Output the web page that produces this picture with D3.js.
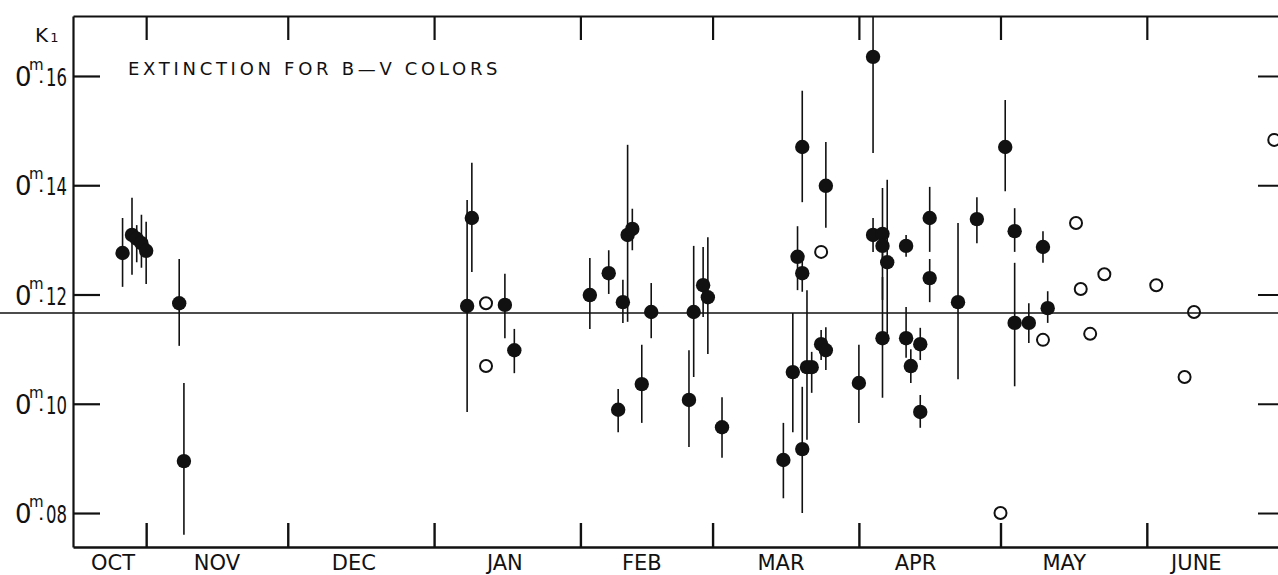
<!DOCTYPE html>
<html><head><meta charset="utf-8">
<script src="https://cdn.jsdelivr.net/npm/d3@7"></script>
<style>body{margin:0;background:#fff} svg{display:block} text{font-family:"DejaVu Sans",sans-serif;fill:#111}</style>
</head><body><svg id="c" width="1278" height="575"></svg>
<script>
// ---------- data ----------
const filledDates = ["1961-10-27","1961-10-29","1961-10-30","1961-10-31","1961-11-01","1961-11-08","1961-11-09",
 "1962-01-09","1962-01-08","1962-01-16","1962-01-18",
 "1962-02-03","1962-02-07","1962-02-09","1962-02-10","1962-02-11","1962-02-12","1962-02-14","1962-02-16","1962-02-24","1962-02-25","1962-02-27","1962-02-28",
 "1962-03-03","1962-03-16","1962-03-18","1962-03-19","1962-03-20","1962-03-20","1962-03-20","1962-03-21","1962-03-22","1962-03-24","1962-03-25","1962-03-25",
 "1962-04-01","1962-04-04","1962-04-04","1962-04-06","1962-04-06","1962-04-07","1962-04-06","1962-04-11","1962-04-11","1962-04-12","1962-04-14","1962-04-14","1962-04-16","1962-04-16","1962-04-22","1962-04-26",
 "1962-05-02","1962-05-04","1962-05-04","1962-05-07","1962-05-10","1962-05-11"];
const filledValues = [0.1276,0.1309,0.1302,0.1294,0.1280,0.1184,0.0895,
 0.1340,0.1179,0.1181,0.1098,
 0.1199,0.1239,0.0989,0.1186,0.1309,0.1320,0.1036,0.1168,0.1007,0.1168,0.1217,0.1195,
 0.0957,0.0897,0.1058,0.1269,0.1470,0.0917,0.1239,0.1067,0.1067,0.1109,0.1098,0.1399,
 0.1038,0.1635,0.1309,0.1311,0.1289,0.1259,0.1120,0.1289,0.1120,0.1069,0.1109,0.0985,0.1340,0.1230,0.1186,0.1338,
 0.1470,0.1148,0.1316,0.1148,0.1287,0.1175];
const filledLow = [0.1214,0.1236,0.1259,0.1249,0.1219,0.1106,0.0760,
 0.1241,0.0985,0.1120,0.1056,
 0.1137,0.1201,0.0948,0.1148,0.1150,0.1281,0.0965,0.1120,0.0921,0.1049,0.1159,0.1091,
 0.0901,0.0827,0.0948,0.1208,0.1369,0.0800,0.1205,0.0934,0.1020,0.1080,0.1062,0.1322,
 0.0965,0.1459,0.1278,0.1259,0.1190,0.1129,0.1011,0.1269,0.1084,0.1038,0.1080,0.0956,0.1278,0.1186,0.1045,0.1294,
 0.1389,0.1032,0.1278,0.1111,0.1258,0.1148];
const filledHigh = [0.1340,0.1377,0.1327,0.1346,0.1333,0.1265,0.1038,
 0.1441,0.1373,0.1238,0.1137,
 0.1267,0.1281,0.1027,0.1227,0.1474,0.1357,0.1108,0.1221,0.1098,0.1289,0.1287,0.1305,
 0.1012,0.0965,0.1166,0.1325,0.1573,0.1031,0.1272,0.1208,0.1095,0.1135,0.1140,0.1479,
 0.1108,0.1760,0.1340,0.1395,0.1318,0.1410,0.1232,0.1309,0.1177,0.1100,0.1139,0.1016,0.1397,0.1265,0.1331,0.1378,
 0.1556,0.1258,0.1358,0.1184,0.1316,0.1206];
const openDates = ["1962-01-12","1962-01-12","1962-03-24","1962-05-01","1962-05-10","1962-05-17","1962-05-18","1962-05-20","1962-05-23","1962-06-03","1962-06-09","1962-06-11","1962-06-28"];
const openValues = [0.1184,0.1069,0.1278,0.0800,0.1117,0.1331,0.1210,0.1128,0.1237,0.1217,0.1049,0.1168,0.1483];
const meanValue = 0.1166;
const yTicks = [0.08,0.10,0.12,0.14,0.16];
const yTickLabels = ["08","10","12","14","16"];
const monthTickDates = ["1961-11-01","1961-12-01","1962-01-01","1962-02-01","1962-03-01","1962-04-01","1962-05-01","1962-06-01"];
const monthLabels = ["OCT","NOV","DEC","JAN","FEB","MAR","APR","MAY","JUNE"];
const monthLabelDates = ["1961-10-25","1961-11-16","1961-12-15","1962-01-16","1962-02-14","1962-03-15T12","1962-04-13","1962-05-14T12","1962-06-11T12"];
const titleText = "EXTINCTION FOR B\u2014V COLORS";

// ---------- scales ----------
const pd = s => s.includes("T") ? d3.timeParse("%Y-%m-%dT%H")(s) : d3.timeParse("%Y-%m-%d")(s);
const L = 73, R = 1278, T = 16, B = 547;
const x = d3.scaleTime().domain([new Date(1961,9,16,12), new Date(1962,5,28,19)]).range([L, R]);
const y = d3.scaleLinear().domain([0.07378, 0.17098]).range([B, T]);

const svg = d3.select("#c");
svg.append("defs").append("clipPath").attr("id","plot").append("rect")
  .attr("x", L).attr("y", T).attr("width", R - L).attr("height", B - T);

// ---------- axes ----------
const ink = "#111";
function styleAxis(g, w){ g.selectAll("path,line").attr("stroke", ink).attr("stroke-width", w); g.selectAll("text").remove(); }
const mt = monthTickDates.map(pd);
svg.append("g").attr("transform",`translate(0,${B})`)
  .call(d3.axisBottom(x).tickValues(mt).tickSize(-24).tickSizeOuter(0).tickFormat(""))
  .call(g => styleAxis(g, 2.4));
svg.append("g").attr("transform",`translate(0,${T})`)
  .call(d3.axisTop(x).tickValues(mt).tickSize(-24).tickSizeOuter(0).tickFormat(""))
  .call(g => styleAxis(g, 2.2));
svg.append("g").attr("transform",`translate(${L},0)`)
  .call(d3.axisLeft(y).tickValues(yTicks).tickSize(-27).tickSizeOuter(0).tickFormat(""))
  .call(g => styleAxis(g, 2.2));
svg.append("g").attr("transform",`translate(${R},0)`)
  .call(d3.axisRight(y).tickValues(yTicks).tickSize(-20).tickSizeOuter(0).tickFormat(""))
  .call(g => { styleAxis(g, 2); g.select(".domain").remove(); });

// y labels (0^m.16 style)
yTicks.forEach((t, i) => {
  const yy = y(t);
  const g = svg.append("g");
  g.append("text").attr("x", 15).attr("y", yy + 10).attr("font-size", 26).text("0");
  g.append("text").attr("x", 29).attr("y", yy - 6).attr("font-size", 15).text("m");
  g.append("text").attr("x", 38).attr("y", yy + 7).attr("font-size", 20).text(".");
  g.append("text").attr("x", 46).attr("y", yy + 10).attr("font-size", 25)
    .attr("textLength", 21).attr("lengthAdjust", "spacingAndGlyphs").text(yTickLabels[i]);
});
// K1
svg.append("text").attr("x", 35).attr("y", 42).attr("font-size", 20).text("K")
  .append("tspan").attr("font-size", 13).attr("dx", 2).text("1");

// month labels
svg.selectAll(".ml").data(monthLabels).join("text").attr("class","ml")
  .attr("x", (d, i) => x(pd(monthLabelDates[i]))).attr("y", 570)
  .attr("text-anchor", "middle").attr("font-size", 21).text(d => d);

// title
svg.append("text").attr("x", 128).attr("y", 75).attr("font-size", 18)
  .attr("letter-spacing", 3.7).text(titleText);

// mean line
svg.append("line").attr("x1", 0).attr("x2", R).attr("y1", y(meanValue)).attr("y2", y(meanValue))
  .attr("stroke", ink).attr("stroke-width", 1.5);

// ---------- marks ----------
const pts = filledDates.map((d, i) => ({date: pd(d), v: filledValues[i], lo: filledLow[i], hi: filledHigh[i]}));
const plot = svg.append("g").attr("clip-path", "url(#plot)");
plot.selectAll(".eb").data(pts).join("line").attr("class","eb")
  .attr("x1", d => x(d.date)).attr("x2", d => x(d.date))
  .attr("y1", d => y(d.lo)).attr("y2", d => y(d.hi))
  .attr("stroke", ink).attr("stroke-width", 1.6);
svg.selectAll(".dot").data(pts).join("circle").attr("class","dot")
  .attr("cx", d => x(d.date)).attr("cy", d => y(d.v)).attr("r", 7.2).attr("fill", ink);
const opts = openDates.map((d, i) => ({date: pd(d), v: openValues[i]}));
svg.selectAll(".open").data(opts).join("circle").attr("class","open")
  .attr("cx", d => x(d.date)).attr("cy", d => y(d.v)).attr("r", 6)
  .attr("fill", "none").attr("stroke", ink).attr("stroke-width", 2);
</script></body></html>
